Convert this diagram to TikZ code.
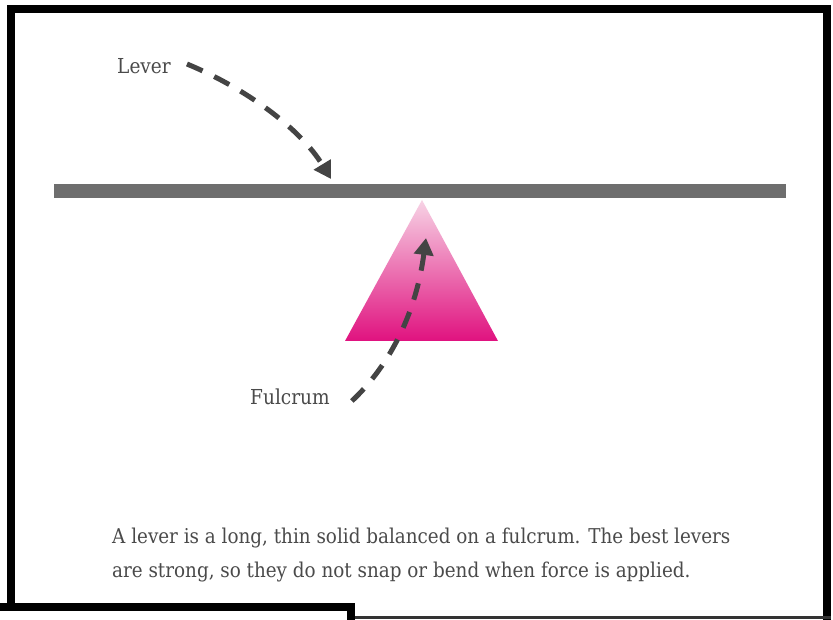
\documentclass[tikz,border=0pt]{standalone}
\usepackage{fontspec}
\setmainfont{DejaVu Serif Condensed}
\usetikzlibrary{arrows.meta}
\definecolor{framec}{HTML}{000000}
\definecolor{barc}{HTML}{6E6E6E}
\definecolor{arrc}{HTML}{444444}
\definecolor{txtc}{HTML}{4A4A4A}
\definecolor{pinktop}{HTML}{F7D3E5}
\definecolor{pinkbot}{HTML}{E0127F}
\tikzset{
  lbl/.style={font=\fontsize{20.6}{22}\selectfont, text=txtc, inner sep=0pt},
  dasharrow/.style={draw=arrc, line width=5pt, dash pattern=on 17pt off 13pt,
     -{Triangle[length=17pt,width=19pt]}},
}
\begin{document}
\begin{tikzpicture}[x=1pt,y=-1pt]
\useasboundingbox[fill=white] (0,0) rectangle (833,620);
% frame
\fill[framec] (7,5) rectangle (831,13);
\fill[framec] (7,5) rectangle (15,610);
\fill[framec] (0,603) rectangle (355,611);
\fill[framec] (347,603) rectangle (355,620);
\fill[framec] (823,5) rectangle (831,620);
\fill[black!80] (355,616) rectangle (831,619);
% lever
\fill[barc] (54,184) rectangle (786,198);
\coordinate (levertarget) at (331,179);
% fulcrum
\shade[top color=pinktop, bottom color=pinkbot] (422,200) -- (345,341) -- (498,341) -- cycle;
\coordinate (fulcrumtarget) at (426,238);
% labels
\node[lbl, anchor=west] (lever) at (117,66) {Lever};
\node[lbl, anchor=west] (fulcrum) at (250,397) {Fulcrum};
% arrows
\draw[dasharrow] ([xshift=16pt,yshift=2pt]lever.east) .. controls (245,88) and (300,128) .. (levertarget);
\draw[dasharrow] ([xshift=22pt,yshift=-4pt]fulcrum.east) .. controls (385,370) and (415,320) .. (fulcrumtarget);
% caption
\node[anchor=north west, align=left, inner sep=0pt, text=txtc,
      font=\fontsize{20.4}{34}\selectfont] (caption) at (112,528)
  {A lever is a long, thin solid balanced on a fulcrum. The best levers\\
   are strong, so they do not snap or bend when force is applied.};
\end{tikzpicture}
\end{document}
